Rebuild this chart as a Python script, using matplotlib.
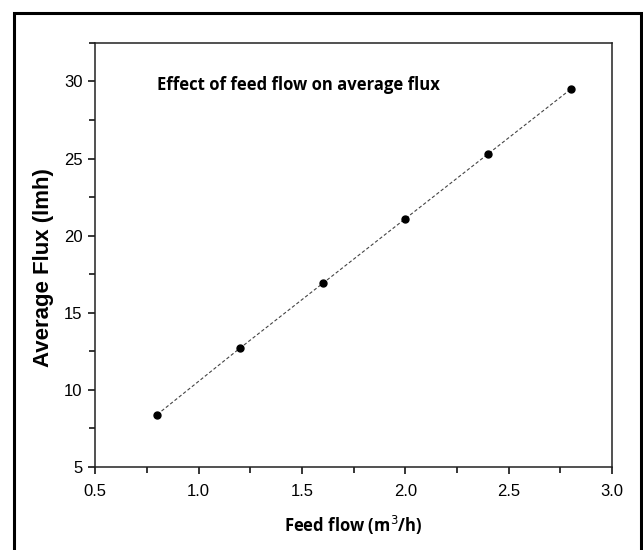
import matplotlib
matplotlib.use("Agg")
import matplotlib.pyplot as plt
from matplotlib.patches import Rectangle
from matplotlib.ticker import MultipleLocator

feed_flow = [0.8, 1.2, 1.6, 2.0, 2.4, 2.8]
avg_flux = [8.4, 12.7, 16.9, 21.1, 25.3, 29.5]

title = "Effect of feed flow on average flux"
x_label = "Feed flow (m$^3$/h)"
y_label = "Average Flux (lmh)"

fig = plt.figure(figsize=(6.43, 5.5), dpi=100)
ax = fig.add_axes([0.148, 0.151, 0.804, 0.771])

ax.plot(feed_flow, avg_flux, linestyle=(0, (3, 2)), color="#444444", linewidth=0.8,
        marker="o", markersize=5, markerfacecolor="black", markeredgecolor="black")

ax.set_xlim(0.5, 3.0)
ax.set_ylim(5, 32.5)
ax.xaxis.set_major_locator(MultipleLocator(0.5))
ax.xaxis.set_minor_locator(MultipleLocator(0.25))
ax.yaxis.set_major_locator(MultipleLocator(5))
ax.yaxis.set_minor_locator(MultipleLocator(2.5))
ax.tick_params(which="major", direction="out", length=5, width=1.1, labelsize=12,
               top=False, right=False, pad=4)
ax.tick_params(axis="x", which="major", pad=7)
ax.tick_params(which="minor", direction="out", length=4, width=1.1,
               top=False, right=False)
for lab in ax.get_xticklabels() + ax.get_yticklabels():
    lab.set_fontfamily("Liberation Sans")
for sp in ax.spines.values():
    sp.set_linewidth(1.1)
    sp.set_color("#222222")

ax.text(0.12, 0.90, title, transform=ax.transAxes, fontsize=12, fontweight="bold",
        family="Open Sans", va="center", ha="left")
ax.set_xlabel(x_label, fontsize=12, fontweight="bold", family="Open Sans")
ax.set_ylabel(y_label, fontsize=16, fontweight="bold", family="Liberation Sans")
ax.xaxis.set_label_coords(0.5, -0.139)
ax.xaxis.label.set_va("center")
ax.yaxis.set_label_coords(-0.10, 0.47)
ax.yaxis.label.set_va("center")

fig.add_artist(Rectangle((0.021, -0.05), 0.976, 1.026, transform=fig.transFigure,
                         fill=False, edgecolor="black", linewidth=2.2, clip_on=False))

fig.savefig("out.png", dpi=100)
